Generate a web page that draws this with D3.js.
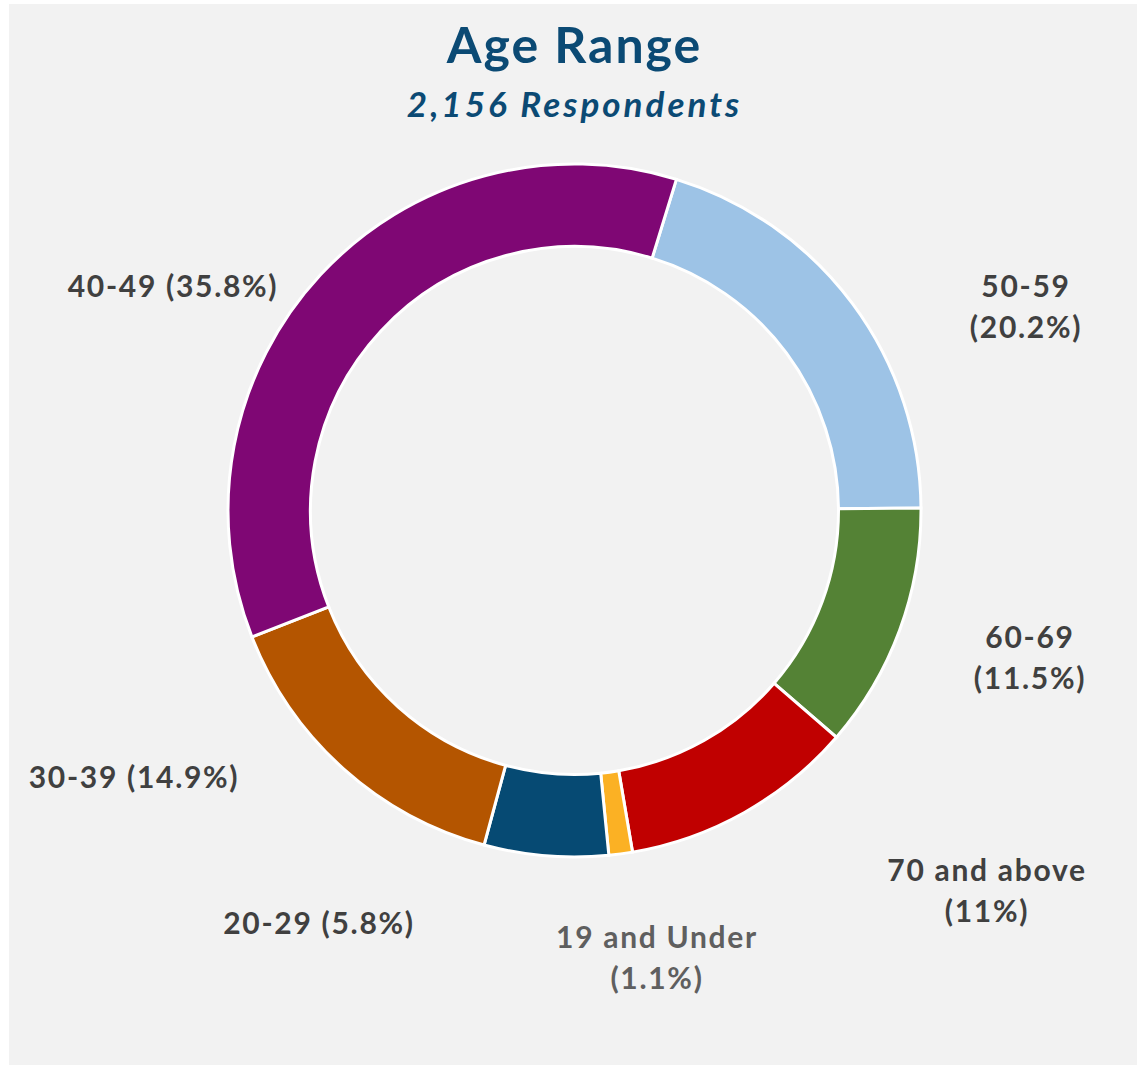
<!DOCTYPE html>
<html>
<head>
<meta charset="utf-8">
<script src="https://cdn.jsdelivr.net/npm/d3@7"></script>
<style>
  body { margin: 0; background: #ffffff; }
  svg { display: block; }
  .label { font-family: Lato, 'Liberation Sans', sans-serif; font-weight: bold; }
</style>
</head>
<body>
<div id="chart"></div>
<script>
// data, in drawing order (clockwise from the first slice)
const categories = ['50-59', '60-69', '70 and above', '19 and Under', '20-29', '30-39', '40-49'];
const percents = [20.2, 11.5, 11, 1.1, 5.8, 14.9, 35.8];
const colors = ['#9DC3E6', '#548235', '#C00000', '#FBB124', '#064A73', '#B45500', '#7F0774'];
const labelLines = [
  ['50-59', '(20.2%)'],
  ['60-69', '(11.5%)'],
  ['70 and above', '(11%)'],
  ['19 and Under', '(1.1%)'],
  ['20-29 (5.8%)'],
  ['30-39 (14.9%)'],
  ['40-49 (35.8%)'],
];
const title = 'Age Range';
const subtitle = '2,156 Respondents';

// layout
const width = 1137;
const height = 1066;
const cx = 574.5;
const cy = 510.5;
const outerR = 346.5;
const innerR = 264;
const startDeg = 17.1;
// label anchor (centre x, first baseline y) for each slice
const labelPos = [
  [1026, 297], [1030, 648], [987, 881], [657, 948],
  [319, 934], [134, 788], [173, 297],
];
const lineGap = 41;

const svg = d3
  .select('#chart')
  .append('svg')
  .attr('width', width)
  .attr('height', height);

svg
  .append('rect')
  .attr('x', 9)
  .attr('y', 4)
  .attr('width', width - 9)
  .attr('height', height - 5)
  .attr('fill', '#F2F2F2');

// titles
svg
  .append('text')
  .attr('x', cx)
  .attr('y', 63)
  .attr('text-anchor', 'middle')
  .style('font-family', 'Lato, sans-serif')
  .style('font-weight', 'bold')
  .style('font-size', '50px')
  .style('letter-spacing', '2px')
  .style('fill', '#0B4A74')
  .text(title);

svg
  .append('text')
  .attr('x', cx)
  .attr('y', 117)
  .attr('text-anchor', 'middle')
  .style('font-family', 'Lato, sans-serif')
  .style('font-weight', 'bold')
  .style('font-style', 'italic')
  .style('font-size', '35px')
  .style('letter-spacing', '3px')
  .style('fill', '#0B4A74')
  .text(subtitle);

// donut
const start = (startDeg * Math.PI) / 180;
const pie = d3
  .pie()
  .sort(null)
  .value((d) => d)
  .startAngle(start)
  .endAngle(start + 2 * Math.PI);

const arc = d3.arc().innerRadius(innerR).outerRadius(outerR);

const g = svg.append('g').attr('transform', 'translate(' + cx + ',' + cy + ')');

g.selectAll('path')
  .data(pie(percents))
  .join('path')
  .attr('d', arc)
  .attr('fill', (d, i) => colors[i])
  .attr('stroke', '#FFFFFF')
  .attr('stroke-width', 3)
  .attr('stroke-linejoin', 'miter');

// labels
const labels = svg
  .selectAll('.label')
  .data(categories)
  .join('text')
  .attr('class', 'label')
  .attr('text-anchor', 'middle')
  .style('font-size', '30px')
  .style('letter-spacing', '1.7px')
  .style('fill', (d) => (d === '19 and Under' ? '#5F5F5F' : '#404040'))
  .attr('x', (d, i) => labelPos[i][0])
  .attr('y', (d, i) => labelPos[i][1]);

labels
  .selectAll('tspan')
  .data((d, i) => labelLines[i].map((t, j) => ({ t, j, x: labelPos[i][0] })))
  .join('tspan')
  .attr('x', (d) => d.x)
  .attr('dy', (d) => (d.j === 0 ? 0 : lineGap))
  .text((d) => d.t);
</script>
</body>
</html>
